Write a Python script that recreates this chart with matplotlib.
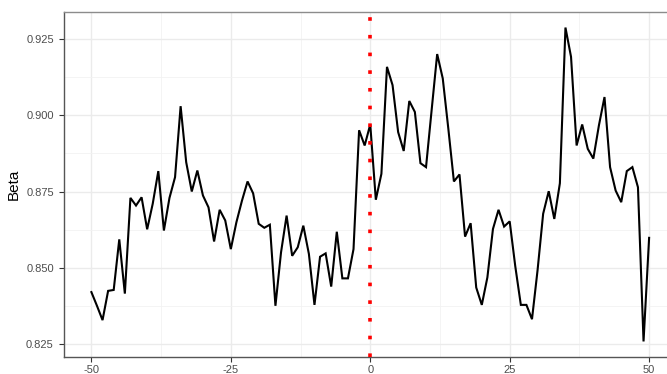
import matplotlib
matplotlib.use("Agg")
import matplotlib.pyplot as plt
import numpy as np
from matplotlib.ticker import MultipleLocator

plt.rcParams['font.family'] = ['Liberation Sans', 'DejaVu Sans']
plt.rcParams['axes.unicode_minus'] = False

# event window (days relative to event)
days = np.arange(-50, 51)

# beta estimates
beta = [
    0.8420, 0.8375, 0.8328, 0.8424, 0.8427, 0.8593, 0.8415, 0.8729, 0.8704, 0.8731,
    0.8626, 0.8710, 0.8817, 0.8622, 0.8729, 0.8797, 0.9030, 0.8846, 0.8750, 0.8819,
    0.8737, 0.8698, 0.8586, 0.8690, 0.8655, 0.8561, 0.8649, 0.8720, 0.8783, 0.8744,
    0.8644, 0.8631, 0.8641, 0.8375, 0.8550, 0.8671, 0.8539, 0.8567, 0.8638, 0.8545,
    0.8378, 0.8536, 0.8547, 0.8438, 0.8618, 0.8465, 0.8465, 0.8561, 0.8951, 0.8901,
    0.8970,
    0.8723, 0.8808, 0.9159, 0.9099, 0.8945, 0.8883, 0.9047, 0.9011, 0.8843, 0.8830,
    0.9016, 0.9201, 0.9121, 0.8956, 0.8783, 0.8806, 0.8602, 0.8646, 0.8435, 0.8378,
    0.8468, 0.8627, 0.8690, 0.8635, 0.8652, 0.8505, 0.8378, 0.8378, 0.8331, 0.8492,
    0.8677, 0.8751, 0.8660, 0.8777, 0.9288, 0.9192, 0.8901, 0.8970, 0.8890, 0.8858,
    0.8967, 0.9060, 0.8830, 0.8753, 0.8715, 0.8817, 0.8830, 0.8764, 0.8258, 0.8598,
]

x_ticks = [-50, -25, 0, 25, 50]
y_ticks = [0.825, 0.850, 0.875, 0.900, 0.925]

fig = plt.figure(figsize=(6.67, 3.74), dpi=100)
# panel is wider than the picture: right border is cut off as in the original
ax = fig.add_axes([63.5 / 667, 1 - 357 / 374, (677 - 63.5) / 667, (357 - 11.7) / 374])

ax.plot(days, beta, color='black', lw=1.5, solid_joinstyle='miter', zorder=3)
ax.axvline(0, color='#ff0000', lw=2.6, linestyle=(0, (1, 3.9)), zorder=4)

ax.set_xlim(-55, 55)
ax.set_ylim(0.8207, 0.9340)
ax.set_xticks(x_ticks)
ax.set_yticks(y_ticks)
ax.set_yticklabels(['%.3f' % v for v in y_ticks])
ax.xaxis.set_minor_locator(MultipleLocator(12.5))
ax.yaxis.set_minor_locator(MultipleLocator(0.0125))

ax.grid(which='major', color='#ebebeb', lw=1.0, zorder=0)
ax.grid(which='minor', color='#f2f2f2', lw=0.6, zorder=0)
ax.set_axisbelow(True)

for s in ax.spines.values():
    s.set_color('#555555')
    s.set_linewidth(1.0)
ax.spines['top'].set_color('#8c8c8c')

ax.tick_params(which='major', length=3.5, width=0.8, color='#333333',
               labelcolor='#4d4d4d', labelsize=8)
ax.tick_params(axis='x', which='major', pad=2.5)
ax.tick_params(which='minor', length=0)

ax.set_ylabel('Beta', fontsize=11, color='black', labelpad=4)

fig.savefig('out.png', dpi=100)
